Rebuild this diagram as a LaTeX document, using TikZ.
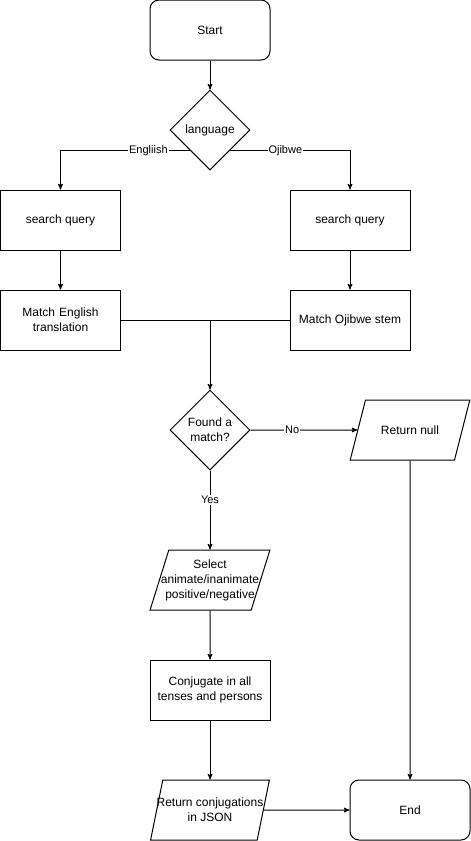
\documentclass[tikz,border=0pt]{standalone}
\usepackage{fontspec}
\setmainfont{Liberation Sans}
\usetikzlibrary{
        arrows,
        positioning,
        shapes.geometric
    }
\tikzset{>=stealth',x=1pt,y=-1pt}
\tikzset{every node/.style={font=\fontsize{12}{15}\selectfont}}
\tikzset{
    term/.style={draw,rounded corners=9pt,minimum width=120pt,minimum height=60pt},
    proc/.style={draw,minimum width=120pt,minimum height=60pt,align=center},
    decision/.style={draw,diamond,minimum width=80pt,minimum height=80pt,inner sep=0pt,align=center},
    io/.style={draw,trapezium,trapezium left angle=71.57,trapezium right angle=108.43,
        trapezium stretches=true,minimum width=120pt,minimum height=60pt,inner xsep=-14pt,align=center},
    lbl/.style={fill=white,inner sep=1pt,font=\fontsize{11}{13}\selectfont}
}

\begin{document}
\begin{tikzpicture}[line width=1pt]
    \useasboundingbox (0,0) rectangle (471,841);
    \node[term] (start) at (210,30)    {Start};
    \node[decision] (lang) at (210,130) {language};
    \node[proc] (sqe) at (60.5,220)    {search query};
    \node[proc] (sqo) at (350,220)     {search query};
    \node[proc,text width=100pt] (mee) at (60.5,320) {Match English translation};
    \node[proc] (mos) at (350,320)     {Match Ojibwe stem};
    \node[decision] (found) at (210,430) {Found a\\match?};
    \node[io] (retnull) at (410,430)   {Return null};
    \node[io] (sel) at (210,580)       {Select\\animate/inanimate\\positive/negative};
    \node[proc] (conj) at (210,690)    {Conjugate in all\\tenses and persons};
    \node[io] (retj) at (210,810)      {Return conjugations\\in JSON};
    \node[term] (end) at (410,810)     {End};
    \coordinate (join) at (mee.east -| found);

    \draw[->] (start) -- (lang);
    \draw[->] (lang.south west) -| node[lbl,pos=0.16] {Engliish} (sqe);
    \draw[->] (lang.south east) -| node[lbl,pos=0.23] {Ojibwe} (sqo);
    \draw[->] (sqe) -- (mee);
    \draw[->] (sqo) -- (mos);
    \draw (mee) -- (mos);
    \draw[->] (join) -- (found);
    \draw[->] (found) -- node[lbl,pos=0.39] {No} (retnull);
    \draw[->] (found) -- node[lbl,pos=0.375] {Yes} (sel);
    \draw[->] (sel) -- (conj);
    \draw[->] (conj) -- (retj);
    \draw[->] (retnull) -- (end);
    \draw[->] (retj) -- (end);
\end{tikzpicture}
\end{document}
